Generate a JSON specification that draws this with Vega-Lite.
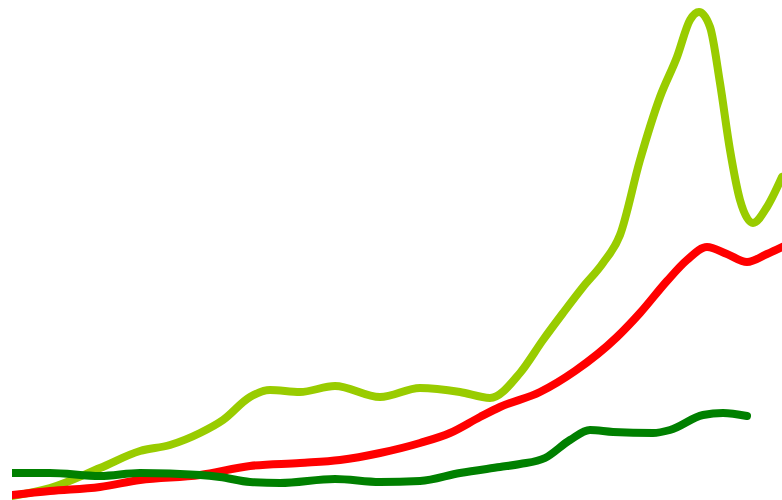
{
  "$schema": "https://vega.github.io/schema/vega-lite/v6.json",
  "width": 770,
  "height": 500,
  "autosize": {"type": "none"},
  "padding": {"left": 12, "top": 0, "right": 0, "bottom": 0},
  "background": "white",
  "config": {"view": {"stroke": null}},
  "data": {
    "values": [
      {"s": "Series 1", "x": 12, "y": 4}, {"s": "Series 1", "x": 50, "y": 12}, {"s": "Series 1", "x": 100, "y": 32}, {"s": "Series 1", "x": 140, "y": 49}, {"s": "Series 1", "x": 170, "y": 55}, {"s": "Series 1", "x": 200, "y": 67}, {"s": "Series 1", "x": 223, "y": 80}, {"s": "Series 1", "x": 250, "y": 103}, {"s": "Series 1", "x": 270, "y": 110}, {"s": "Series 1", "x": 300, "y": 108}, {"s": "Series 1", "x": 335, "y": 114}, {"s": "Series 1", "x": 380, "y": 103}, {"s": "Series 1", "x": 420, "y": 112}, {"s": "Series 1", "x": 460, "y": 108}, {"s": "Series 1", "x": 490, "y": 102}, {"s": "Series 1", "x": 520, "y": 127}, {"s": "Series 1", "x": 543, "y": 160}, {"s": "Series 1", "x": 563, "y": 187}, {"s": "Series 1", "x": 583, "y": 213}, {"s": "Series 1", "x": 603, "y": 237}, {"s": "Series 1", "x": 620, "y": 265}, {"s": "Series 1", "x": 640, "y": 340}, {"s": "Series 1", "x": 660, "y": 403}, {"s": "Series 1", "x": 677, "y": 443}, {"s": "Series 1", "x": 690, "y": 480}, {"s": "Series 1", "x": 699, "y": 488}, {"s": "Series 1", "x": 710, "y": 473}, {"s": "Series 1", "x": 720, "y": 417}, {"s": "Series 1", "x": 730, "y": 350}, {"s": "Series 1", "x": 740, "y": 300}, {"s": "Series 1", "x": 753, "y": 277}, {"s": "Series 1", "x": 767, "y": 293}, {"s": "Series 1", "x": 782, "y": 323},
      {"s": "Series 2", "x": 12, "y": 5}, {"s": "Series 2", "x": 50, "y": 9}, {"s": "Series 2", "x": 100, "y": 13}, {"s": "Series 2", "x": 140, "y": 20}, {"s": "Series 2", "x": 200, "y": 25}, {"s": "Series 2", "x": 250, "y": 34}, {"s": "Series 2", "x": 300, "y": 37}, {"s": "Series 2", "x": 340, "y": 40}, {"s": "Series 2", "x": 380, "y": 47}, {"s": "Series 2", "x": 420, "y": 57}, {"s": "Series 2", "x": 450, "y": 67}, {"s": "Series 2", "x": 480, "y": 83}, {"s": "Series 2", "x": 500, "y": 93}, {"s": "Series 2", "x": 540, "y": 108}, {"s": "Series 2", "x": 575, "y": 129}, {"s": "Series 2", "x": 617, "y": 163}, {"s": "Series 2", "x": 640, "y": 187}, {"s": "Series 2", "x": 667, "y": 219}, {"s": "Series 2", "x": 687, "y": 240}, {"s": "Series 2", "x": 707, "y": 253}, {"s": "Series 2", "x": 727, "y": 246}, {"s": "Series 2", "x": 747, "y": 238}, {"s": "Series 2", "x": 767, "y": 246}, {"s": "Series 2", "x": 782, "y": 253},
      {"s": "Series 3", "x": 12, "y": 27}, {"s": "Series 3", "x": 50, "y": 27}, {"s": "Series 3", "x": 100, "y": 24}, {"s": "Series 3", "x": 140, "y": 27}, {"s": "Series 3", "x": 200, "y": 25}, {"s": "Series 3", "x": 220, "y": 23}, {"s": "Series 3", "x": 250, "y": 18}, {"s": "Series 3", "x": 280, "y": 17}, {"s": "Series 3", "x": 335, "y": 21}, {"s": "Series 3", "x": 380, "y": 18}, {"s": "Series 3", "x": 420, "y": 19}, {"s": "Series 3", "x": 460, "y": 27}, {"s": "Series 3", "x": 500, "y": 33}, {"s": "Series 3", "x": 520, "y": 36}, {"s": "Series 3", "x": 545, "y": 42}, {"s": "Series 3", "x": 570, "y": 60}, {"s": "Series 3", "x": 590, "y": 70}, {"s": "Series 3", "x": 613, "y": 68}, {"s": "Series 3", "x": 653, "y": 67}, {"s": "Series 3", "x": 670, "y": 70}, {"s": "Series 3", "x": 703, "y": 85}, {"s": "Series 3", "x": 723, "y": 87}, {"s": "Series 3", "x": 747, "y": 84}
    ]
  },
  "mark": {"type": "line", "interpolate": "monotone", "strokeWidth": 8, "strokeCap": "round", "strokeJoin": "round", "clip": true},
  "encoding": {
    "x": {"field": "x", "type": "quantitative", "scale": {"domain": [12, 782], "nice": false, "zero": false}, "axis": null},
    "y": {"field": "y", "type": "quantitative", "scale": {"domain": [0, 500], "nice": false}, "axis": null},
    "color": {"field": "s", "type": "nominal", "scale": {"domain": ["Series 1", "Series 2", "Series 3"], "range": ["#99cc00", "#ff0000", "#008000"]}, "legend": null}
  }
}
